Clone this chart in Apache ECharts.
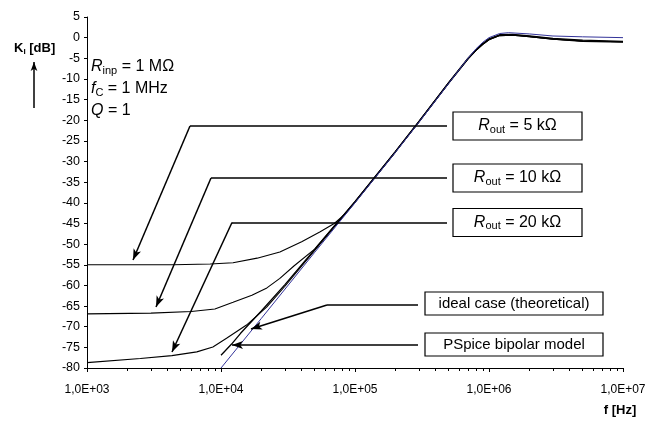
<!DOCTYPE html>
<html>
<head>
<meta charset="utf-8">
<script src="https://cdn.jsdelivr.net/npm/echarts@6/dist/echarts.min.js"></script>
<style>
  html, body { margin: 0; padding: 0; background: #fff; }
  #chart { width: 659px; height: 424px; }
</style>
</head>
<body>
<div id="chart"></div>
<script>
// frequency [Hz] / gain [dB]
const r5kF = [1e3, 4.4e3, 8.3e3, 1.23e4, 1.86e4, 2.75e4, 4e4, 5.5e4, 7e4, 8.5e4, 1e5, 2e5, 3e5, 5e5, 7e5, 8e5, 9e5, 1e6, 1.2e6, 1.5e6, 2e6, 3e6, 5e6, 1e7]
const r5kDb = [-55.0, -55.0, -54.8, -54.5, -53.4, -51.9, -49.4, -47.0, -45.0, -42.6, -39.9, -27.7, -20.4, -11.0, -5.1, -3.1, -1.6, -0.5, 0.5, 0.6, 0.2, -0.4, -0.9, -1.1]

const r10kF = [1e3, 3e3, 6e3, 9e3, 1.23e4, 1.7e4, 2.2e4, 2.75e4, 3.5e4, 5e4, 7e4, 1e5, 2e5, 3e5, 5e5, 7e5, 8e5, 9e5, 1e6, 1.2e6, 1.5e6, 2e6, 3e6, 5e6, 1e7]
const r10kDb = [-66.9, -66.7, -66.3, -65.7, -64.1, -62.4, -60.6, -58.3, -55.3, -51.2, -45.6, -39.7, -27.6, -20.3, -10.9, -5.0, -3.0, -1.5, -0.4, 0.6, 0.7, 0.3, -0.3, -0.8, -1.0]

const r20kF = [1e3, 2.5e3, 4.3e3, 6.6e3, 8.7e3, 1.1e4, 1.55e4, 2.2e4, 3e4, 5e4, 7e4, 1e5, 2e5, 3e5, 5e5, 7e5, 8e5, 9e5, 1e6, 1.2e6, 1.5e6, 2e6, 3e6, 5e6, 1e7]
const r20kDb = [-78.7, -77.7, -77.0, -76.1, -74.9, -72.8, -69.6, -65.2, -60.2, -51.5, -45.8, -39.8, -27.7, -20.4, -11.0, -5.1, -3.1, -1.6, -0.5, 0.5, 0.6, 0.2, -0.4, -0.8, -1.0]

const pspiceF = [1e4, 1.2e4, 1.4e4, 2e4, 3e4, 5e4, 7e4, 1e5, 2e5, 3e5, 5e5, 7e5, 8e5, 9e5, 1e6, 1.2e6, 1.5e6, 2e6, 3e6, 5e6, 1e7]
const pspiceDb = [-76.9, -74.2, -71.6, -66.2, -59.8, -51.3, -45.7, -39.7, -27.6, -20.3, -10.9, -4.9, -2.9, -1.4, -0.3, 0.7, 0.8, 0.4, -0.2, -0.6, -0.9]

const idealF = [1e4, 2e4, 5e4, 1e5, 2e5, 3e5, 5e5, 7e5, 8e5, 9e5, 1e6, 1.2e6, 1.4e6, 2e6, 3e6, 5e6, 1e7]
const idealDb = [-80.0, -68.0, -52.0, -40.0, -27.8, -20.5, -11.1, -4.9, -2.7, -1.1, 0.0, 1.0, 1.2, 0.9, 0.4, 0.2, 0.0]

const yTicks = { min: -80, max: 5, step: 5 }
const xRange = [1e3, 1e7]

// minor ticks at 2..9 of every decade
const minorTicks = []
for (let d = 3; d < 7; d++) {
  for (let m = 2; m <= 9; m++) minorTicks.push(m * Math.pow(10, d))
}

const pairs = (f, db) => f.map((v, i) => [v, db[i]])

const FONT = '"Liberation Sans", Arial, sans-serif'
const chart = echarts.init(document.getElementById('chart'), null, { renderer: 'canvas' })

const curve = (name, f, db, color, width) => ({
  name,
  type: 'line',
  data: pairs(f, db),
  showSymbol: false,
  symbol: 'none',
  smooth: false,
  lineStyle: { color, width },
  itemStyle: { color },
  z: 2
})

// leader line: horizontal part + arrow part
const leader = (x0, y0, x1, y1) => [{ x: x0, y: y0, symbol: 'none' }, { x: x1, y: y1, symbol: 'arrow', symbolSize: [6, 11] }]
const plain = (x0, y0, x1, y1) => [{ x: x0, y: y0, symbol: 'none' }, { x: x1, y: y1, symbol: 'none' }]

const box = (x, y, w, h, text, rich, size) => ({
  type: 'group',
  children: [
    { type: 'rect', shape: { x, y, width: w, height: h }, style: { fill: '#fff', stroke: '#000', lineWidth: 1.2 }, z: 10 },
    {
      type: 'text', z: 11,
      style: {
        x: x + w / 2, y: y + h / 2, text, rich,
        font: size + 'px ' + FONT, fontFamily: FONT, fontSize: size,
        fill: '#000', align: 'center', verticalAlign: 'middle',
        textAlign: 'center', textVerticalAlign: 'middle'
      }
    }
  ]
})

const subRich = (size, sub) => ({
  i: { fontFamily: FONT, fontSize: size, fontStyle: 'italic', lineHeight: size + 2, verticalAlign: 'middle', fill: '#000' },
  s: { fontFamily: FONT, fontSize: sub, lineHeight: sub - 2, verticalAlign: 'bottom', fill: '#000' },
  n: { fontFamily: FONT, fontSize: size, lineHeight: size + 2, verticalAlign: 'middle', fill: '#000' }
})

const note = (x, y, text, rich) => ({
  type: 'text', z: 11,
  style: {
    x, y, text, rich, fontFamily: FONT, fontSize: 16, fill: '#000',
    align: 'left', verticalAlign: 'middle', textAlign: 'left', textVerticalAlign: 'middle'
  }
})

const option = {
  animation: false,
  backgroundColor: '#fff',
  grid: { left: 87, right: 36, top: 17, bottom: 56, containLabel: false },
  xAxis: [
    {
      type: 'log',
      logBase: 10,
      min: xRange[0],
      max: xRange[1],
      position: 'bottom',
      axisLine: { show: true, onZero: false, lineStyle: { color: '#000', width: 1 } },
      axisTick: { show: true, length: 4, lineStyle: { color: '#000' } },
      splitLine: { show: false },
      axisLabel: {
        color: '#000', fontSize: 12, fontFamily: FONT, margin: 16,
        formatter: v => '1,0E+0' + Math.round(Math.log10(v))
      }
    },
    {
      type: 'log',
      logBase: 10,
      min: xRange[0],
      max: xRange[1],
      position: 'bottom',
      axisLine: { show: false, onZero: false },
      axisTick: { show: true, length: 3, customValues: minorTicks, lineStyle: { color: '#000' } },
      axisLabel: { show: false },
      splitLine: { show: false }
    }
  ],
  yAxis: {
    type: 'value',
    min: yTicks.min,
    max: yTicks.max,
    interval: yTicks.step,
    axisLine: { show: true, onZero: false, lineStyle: { color: '#000', width: 1 } },
    axisTick: { show: true, length: 3, lineStyle: { color: '#000' } },
    splitLine: { show: false },
    axisLabel: { color: '#000', fontSize: 12.5, fontFamily: FONT, margin: 7 }
  },
  series: [
    curve('Rout = 5 kΩ', r5kF, r5kDb, '#000', 1.1),
    curve('Rout = 10 kΩ', r10kF, r10kDb, '#000', 1.1),
    curve('Rout = 20 kΩ', r20kF, r20kDb, '#000', 1.1),
    curve('PSpice bipolar model', pspiceF, pspiceDb, '#000', 1.3),
    Object.assign(curve('ideal case (theoretical)', idealF, idealDb, '#333399', 1), { z: 3 }),
    {
      name: 'leaders',
      type: 'line',
      data: [],
      markLine: {
        silent: true,
        animation: false,
        symbol: ['none', 'none'],
        label: { show: false },
        lineStyle: { color: '#000', width: 1.5, type: 'solid' },
        emphasis: { disabled: true },
        data: [
          plain(447, 126, 190, 126), leader(190, 126, 133, 260),
          plain(447, 178, 211, 178), leader(211, 178, 156, 307),
          plain(447, 222.5, 232, 222.5), leader(232, 222.5, 172, 352),
          plain(418, 305, 327, 305), leader(327, 305, 251, 329),
          leader(418, 345, 232, 345),
          [{ x: 34, y: 108, symbol: 'none' }, { x: 34, y: 62, symbol: 'arrow', symbolSize: [5, 9] }]
        ]
      }
    }
  ],
  graphic: [
    {
      type: 'text', z: 11,
      style: {
        x: 14, y: 48, text: '{k|K}{s|I}{k| [dB]}',
        rich: {
          k: { fontFamily: FONT, fontSize: 13, fontWeight: 'bold', lineHeight: 15, verticalAlign: 'middle', fill: '#000' },
          s: { fontFamily: FONT, fontSize: 8, fontWeight: 'bold', lineHeight: 6, verticalAlign: 'bottom', fill: '#000' }
        },
        fontFamily: FONT, fontSize: 13, fill: '#000',
        align: 'left', verticalAlign: 'middle', textAlign: 'left', textVerticalAlign: 'middle'
      }
    },
    {
      type: 'text', z: 11,
      style: {
        x: 620, y: 410, text: 'f [Hz]', fontFamily: FONT, fontSize: 13, fontWeight: 'bold',
        font: 'bold 13px ' + FONT, fill: '#000',
        align: 'center', verticalAlign: 'middle', textAlign: 'center', textVerticalAlign: 'middle'
      }
    },
    note(91, 67, '{i|R}{s|inp}{n| = 1 MΩ}', subRich(16, 11)),
    note(91, 89, '{i|f}{s|C}{n| = 1 MHz}', subRich(16, 11)),
    note(91, 111, '{i|Q}{n| = 1}', subRich(16, 11)),
    box(453, 112, 129, 28, '{i|R}{s|out}{n| = 5 kΩ}', subRich(16, 11), 16),
    box(453, 164, 129, 28, '{i|R}{s|out}{n| = 10 kΩ}', subRich(16, 11), 16),
    box(453, 208.5, 129, 28, '{i|R}{s|out}{n| = 20 kΩ}', subRich(16, 11), 16),
    box(425, 292, 178, 23, 'ideal case (theoretical)', null, 15),
    box(425, 333, 178, 23, 'PSpice bipolar model', null, 15)
  ]
}

chart.setOption(option)
</script>
</body>
</html>
